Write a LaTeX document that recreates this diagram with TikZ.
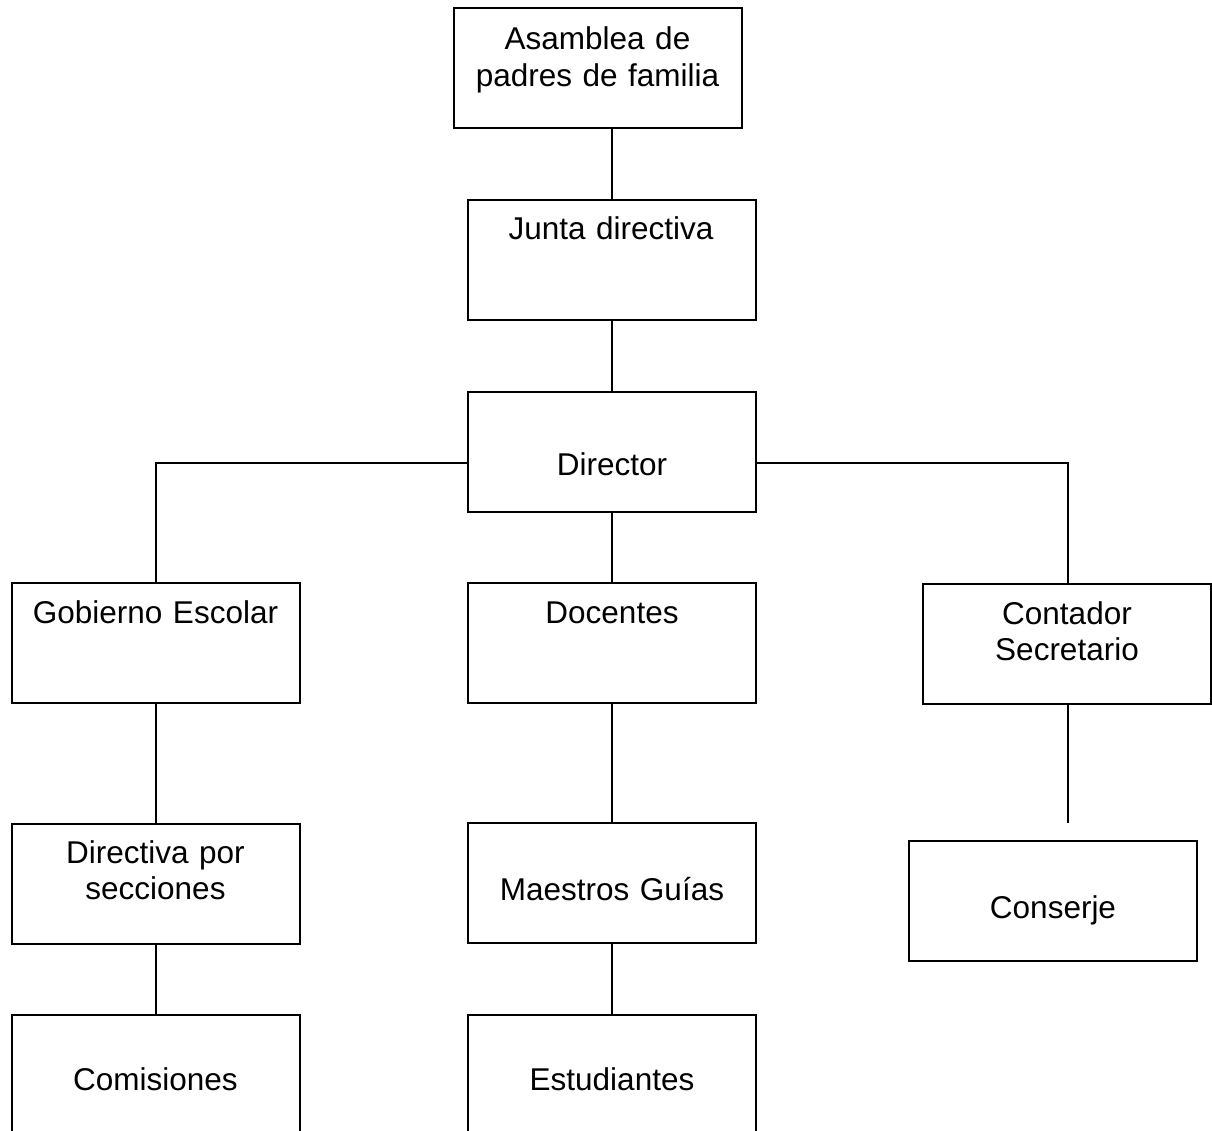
\documentclass[tikz,border=0pt]{standalone}
\usepackage{fontspec}
\setmainfont{Liberation Sans}
\begin{document}
\begin{tikzpicture}[x=1pt,y=-1pt,
  box/.style={draw=black, line width=2pt, rectangle, minimum width=288pt, minimum height=120pt, inner sep=0pt},
  lbl/.style={font=\fontsize{31.5}{36.5}\selectfont, text width=290pt, align=center, inner sep=0pt, anchor=base},
  link/.style={draw=black, line width=2pt}]
\useasboundingbox (0,0) rectangle (1212,1131);
\clip (0,0) rectangle (1212,1131);
% boxes
\node[box] (asam) at (597.5,68) {};
\node[box] (junta) at (612,260) {};
\node[box] (dir) at (612,452) {};
\node[box] (gob) at (155.5,643) {};
\node[box] (doc) at (612,643) {};
\node[box] (cont) at (1067,644) {};
\node[box] (dirsec) at (155.5,883.5) {};
\node[box] (maes) at (612,883) {};
\node[box] (cons) at (1053,901) {};
\node[box] (com) at (155.5,1075) {};
\node[box] (est) at (612,1075) {};
% texts
\node[lbl] (asamT) at (597.5,50) {Asamblea de\\padres de familia};
\node[lbl] (juntaT) at (611,240) {Junta directiva};
\node[lbl] (dirT) at (612,475) {Director};
\node[lbl] (gobT) at (155.5,623) {Gobierno Escolar};
\node[lbl] (docT) at (612,623) {Docentes};
\node[lbl] (contT) at (1067,624) {Contador\\Secretario};
\node[lbl] (dirsecT) at (155.5,863) {Directiva por\\secciones};
\node[lbl] (maesT) at (612,900) {Maestros Guías};
\node[lbl] (consT) at (1053,918) {Conserje};
\node[lbl] (comT) at (155.5,1090) {Comisiones};
\node[lbl] (estT) at (612,1090) {Estudiantes};
\coordinate (contEnd) at (1068,823);
% connectors
\draw[link] (junta.north) -- (junta.north |- asam.south);
\draw[link] (junta.south) -- (dir.north);
\draw[link] ([yshift=-11pt]dir.west) -| (gob.north);
\draw[link] ([yshift=-11pt]dir.east) -| ([xshift=1pt]cont.north);
\draw[link] (dir.south) -- (doc.north);
\draw[link] (gob.south) -- (dirsec.north);
\draw[link] (doc.south) -- (maes.north);
\draw[link] ([xshift=1pt]cont.south) -- (contEnd);
\draw[link] (dirsec.south) -- (com.north);
\draw[link] (maes.south) -- (est.north);
\end{tikzpicture}
\end{document}
